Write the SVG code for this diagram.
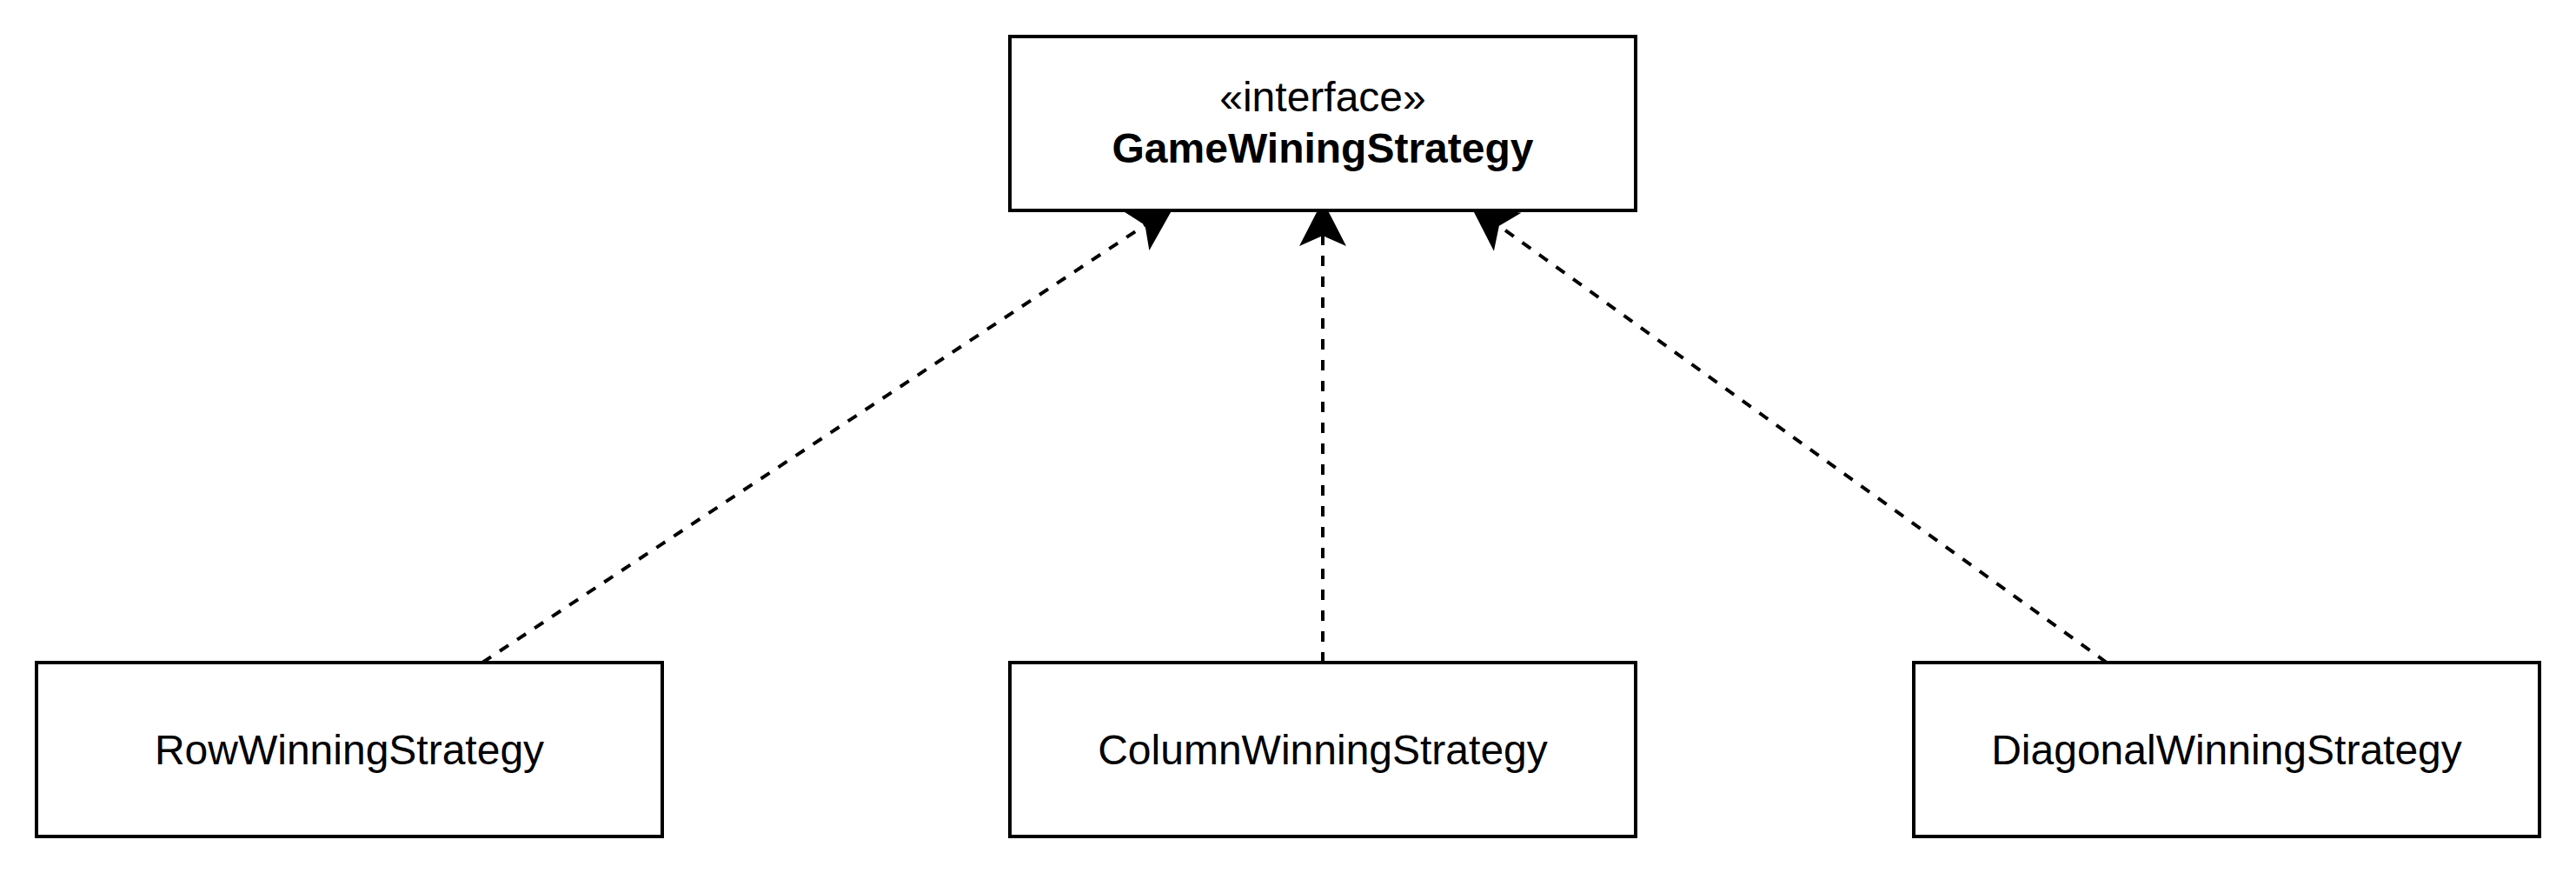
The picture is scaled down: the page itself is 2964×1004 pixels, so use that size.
<svg xmlns="http://www.w3.org/2000/svg" width="2964" height="1004" viewBox="0 0 2964 1004">
<style>
.box{fill:#fff;stroke:#000;stroke-width:4}
.t{font-family:"Liberation Sans",Arial,Helvetica,sans-serif;font-size:48px;fill:#000;text-anchor:middle}
.b{font-weight:bold}
.dep{fill:none;stroke:#000;stroke-width:4;stroke-dasharray:12 12}
</style>
<defs>
<marker id="arr" markerUnits="userSpaceOnUse" markerWidth="60" markerHeight="60" viewBox="-10 -20 40 40" refX="0" refY="0" orient="auto" overflow="visible">
<path d="M27,0 L-8,-18 L0,0 L-8,18 Z" fill="#000" stroke="none"/>
</marker>
</defs>
<rect width="2964" height="1004" fill="#fff"/>
<g id="connectors">
<line class="dep" x1="555" y1="762" x2="1317.5" y2="258.9" marker-end="url(#arr)"/>
<line class="dep" x1="1522" y1="762" x2="1522" y2="271" marker-end="url(#arr)"/>
<line class="dep" x1="2424" y1="762" x2="1724.9" y2="259.8" marker-end="url(#arr)"/>
</g>
<g id="GameWiningStrategy">
<rect class="box" x="1162" y="42" width="720" height="200"/>
<text class="t" x="1522" y="128">«interface»</text>
<text class="t b" x="1522" y="187">GameWiningStrategy</text>
</g>
<g id="RowWinningStrategy">
<rect class="box" x="42" y="762" width="720" height="200"/>
<text class="t" x="402" y="879">RowWinningStrategy</text>
</g>
<g id="ColumnWinningStrategy">
<rect class="box" x="1162" y="762" width="720" height="200"/>
<text class="t" x="1522" y="879">ColumnWinningStrategy</text>
</g>
<g id="DiagonalWinningStrategy">
<rect class="box" x="2202" y="762" width="720" height="200"/>
<text class="t" x="2562" y="879">DiagonalWinningStrategy</text>
</g>
</svg>
